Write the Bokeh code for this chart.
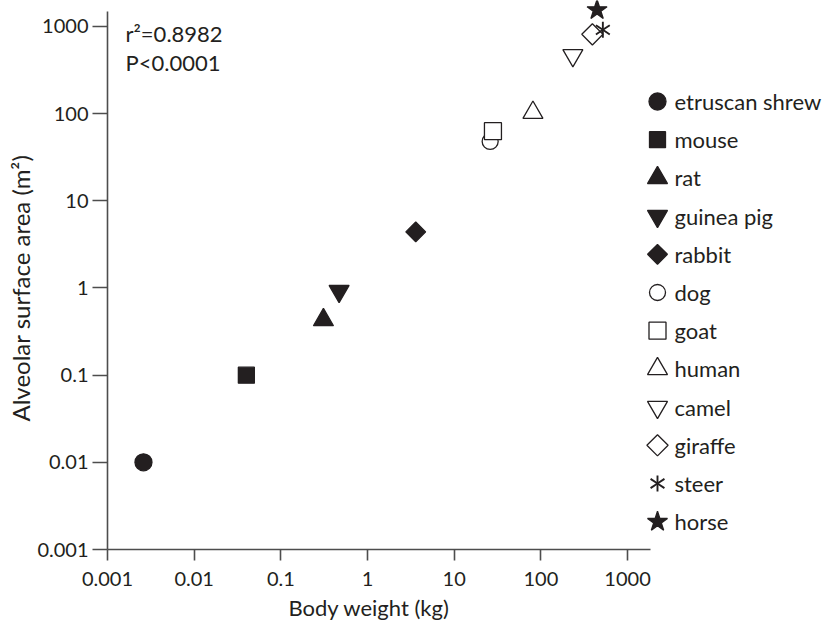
import math
from bokeh.plotting import figure
from bokeh.models import FixedTicker, Label, Range1d, Title, LinearScale
from bokeh.core.properties import value
from bokeh.embed import file_html
from bokeh.resources import INLINE

# ---------------- data ----------------
species = ["etruscan shrew", "mouse", "rat", "guinea pig", "rabbit", "dog",
           "goat", "human", "camel", "giraffe", "steer", "horse"]
body_weight_kg = [0.0026, 0.040, 0.31, 0.47, 3.6, 26, 28, 81, 234, 393, 519, 445]
alveolar_area_m2 = [0.010, 0.10, 0.43, 0.92, 4.4, 48, 63, 103, 466, 813, 916, 1543]
tick_values = [0.001, 0.01, 0.1, 1, 10, 100, 1000]
tick_labels = ["0.001", "0.01", "0.1", "1", "10", "100", "1000"]
stat_r2 = "r\u00b2=0.8982"
stat_p = "P<0.0001"
x_title = "Body weight (kg)"
y_title = "Alveolar surface area (m\u00b2)"

# ---------------- style ----------------
INK = "#231f20"
AXIS = "#4d4d4d"
FONT = "Lato"
P4 = math.pi / 4
styles = {
    "etruscan shrew": [dict(marker="circle", size=17, filled=True)],
    "mouse": [dict(marker="square", size=16, filled=True)],
    "rat": [dict(marker="triangle", size=20, filled=True)],
    "guinea pig": [dict(marker="inverted_triangle", size=20, filled=True)],
    "rabbit": [dict(marker="square", size=14, filled=True, angle=P4)],
    "dog": [dict(marker="circle", size=16, filled=False)],
    "goat": [dict(marker="square", size=17, filled=False)],
    "human": [dict(marker="triangle", size=20, filled=False)],
    "camel": [dict(marker="inverted_triangle", size=20, filled=False)],
    "giraffe": [dict(marker="square", size=15, filled=False, angle=P4)],
    "steer": [dict(marker="y", size=16, filled=False, line=True),
              dict(marker="y", size=16, filled=False, line=True, angle=math.pi)],
    "horse": [dict(marker="star", size=21, filled=True)],
}


def draw(fig, x, y, st, **rng):
    fig.scatter(x=x, y=y, marker=st["marker"], size=st["size"],
                angle=st.get("angle", 0.0),
                fill_color=INK if st["filled"] else "white",
                fill_alpha=0 if st.get("line") else 1,
                line_color=INK, line_width=1.9 if st.get("line") else 1.3, **rng)


# ---------------- main plot ----------------
p = figure(width=825, height=623, x_axis_type="log", y_axis_type="log",
           x_range=Range1d(0.001, 192300), y_range=Range1d(0.001, 1986),
           min_border_left=107, min_border_right=0, min_border_top=0,
           min_border_bottom=74, output_backend="svg", toolbar_location=None)
p.grid.visible = False
p.outline_line_color = None
p.background_fill_color = "white"
p.border_fill_color = "white"

for ax, tick_out in ((p.xaxis[0], 11), (p.yaxis[0], 15)):
    ax.ticker = FixedTicker(ticks=tick_values, minor_ticks=[])
    ax.major_label_overrides = dict(zip(tick_values, tick_labels))
    ax.axis_line_color = AXIS
    ax.axis_line_width = 1.6
    ax.major_tick_line_color = AXIS
    ax.major_tick_line_width = 1.6
    ax.major_tick_out = tick_out
    ax.major_tick_in = 0
    ax.minor_tick_line_color = None
    ax.major_label_text_font = FONT
    ax.major_label_text_font_size = "20px"
    ax.major_label_text_color = INK
p.xaxis.major_label_standoff = 11
p.yaxis.major_label_standoff = 4
p.xaxis.bounds = (0.001, 1841)
p.yaxis.bounds = (0.001, 1486)

for name, bx, ay in zip(species, body_weight_kg, alveolar_area_m2):
    for st in styles[name]:
        draw(p, [bx], [ay], st)

tcommon = dict(text_font=FONT, text_color=INK, text_font_style="normal", align="left")
p.add_layout(Title(text=x_title, offset=181, text_font_size="22px", standoff=6,
                   **tcommon), "below")
p.add_layout(Title(text=y_title, offset=128, text_font_size="24px", standoff=0,
                   **tcommon), "left")

common = dict(text_font=FONT, text_font_size="22px", text_color=INK)
p.add_layout(Label(x=18, y=516, x_units="screen", y_units="screen", text=stat_r2,
                   text_baseline="alphabetic", **common))
p.add_layout(Label(x=18, y=487, x_units="screen", y_units="screen", text=stat_p,
                   text_baseline="alphabetic", **common))

# ---------------- legend (same frame, pixel-like linear extra ranges) ----------------
legend_rows = list(range(len(species)))
p.extra_x_ranges = {"leg_x": Range1d(-550, 168)}
p.extra_y_ranges = {"leg_y": Range1d(11.728, -2.644)}
p.extra_x_scales = {"leg_x": LinearScale()}
p.extra_y_scales = {"leg_y": LinearScale()}
for name, r in zip(species, legend_rows):
    for st in styles[name]:
        draw(p, [0], [r], st, x_range_name="leg_x", y_range_name="leg_y")
p.text(x=[17] * len(species), y=legend_rows, text=species, text_baseline="middle",
       text_font=value(FONT), text_font_size="22px", text_color=INK,
       x_range_name="leg_x", y_range_name="leg_y")

open("out.html", "w").write(file_html(p, INLINE))
